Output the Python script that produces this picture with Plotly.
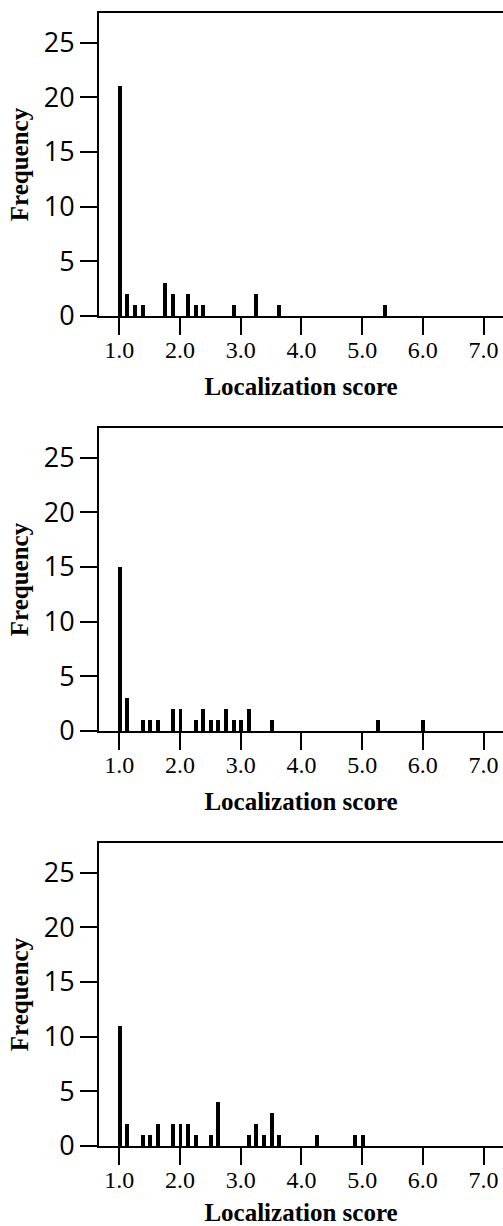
import plotly.graph_objects as go

# Panel data: localization score (bin position) and frequency
scores1 = [1.0, 1.125, 1.25, 1.375, 1.75, 1.875, 2.125, 2.25, 2.375, 2.875, 3.25, 3.625, 5.375]
freq1 = [21, 2, 1, 1, 3, 2, 2, 1, 1, 1, 2, 1, 1]

scores2 = [1.0, 1.125, 1.375, 1.5, 1.625, 1.875, 2.0, 2.25, 2.375, 2.5, 2.625, 2.75, 2.875,
           3.0, 3.125, 3.5, 5.25, 6.0]
freq2 = [15, 3, 1, 1, 1, 2, 2, 1, 2, 1, 1, 2, 1, 1, 2, 1, 1, 1]

scores3 = [1.0, 1.125, 1.375, 1.5, 1.625, 1.875, 2.0, 2.125, 2.25, 2.5, 2.625, 3.125, 3.25,
           3.375, 3.5, 3.625, 4.25, 4.875, 5.0]
freq3 = [11, 2, 1, 1, 2, 2, 2, 2, 1, 1, 4, 1, 2, 1, 3, 1, 1, 1, 1]

x_tickvals = [1, 2, 3, 4, 5, 6, 7]
x_ticktext = ["1.0", "2.0", "3.0", "4.0", "5.0", "6.0", "7.0"]
y_tickvals = [0, 5, 10, 15, 20, 25]

panels = [(scores1, freq1), (scores2, freq2), (scores3, freq3)]

W, H = 503, 1226
mt, mb = 13, 80
ph = H - mt - mb
panel_h = 303
pitch = 415

fig = go.Figure()
for i, (xs, ys) in enumerate(panels):
    n = i + 1
    suffix = "" if n == 1 else str(n)
    fig.add_trace(go.Bar(
        x=xs, y=ys, width=[0.065] * len(xs), offset=-0.025,
        marker=dict(color="black", line=dict(width=0)),
        xaxis="x" + suffix, yaxis="y" + suffix, showlegend=False,
    ))
    top = ph - i * pitch
    bottom = top - panel_h
    ydom = [bottom / ph, top / ph]
    xa = dict(
        domain=[0, 1], range=[0.665, 7.32], anchor="y" + suffix,
        tickvals=x_tickvals, ticktext=x_ticktext,
        ticks="outside", ticklen=17, tickwidth=1.5, tickcolor="black",
        ticklabelstandoff=-6,
        showline=True, linecolor="black", linewidth=2, mirror=True,
        showgrid=False, zeroline=False,
        tickfont=dict(family="Liberation Serif", size=24, color="black"),
        title=dict(text="<b>Localization score</b>", standoff=16,
                   font=dict(family="Liberation Serif", size=25, color="black")),
    )
    ya = dict(
        domain=ydom, range=[0, 27.7], anchor="x" + suffix,
        tickvals=y_tickvals,
        ticks="outside", ticklen=17, tickwidth=1.5, tickcolor="black",
        showline=True, linecolor="black", linewidth=2, mirror=False,
        showgrid=False, zeroline=False,
        tickfont=dict(family="Open Sans", size=27, color="black"),
        title=dict(text="<b>Frequency</b>", standoff=8,
                   font=dict(family="Liberation Serif", size=25, color="black")),
    )
    fig.layout["xaxis" + suffix] = xa
    fig.layout["yaxis" + suffix] = ya

fig.update_layout(
    width=W, height=H,
    margin=dict(l=99, r=0, t=mt, b=mb),
    paper_bgcolor="white", plot_bgcolor="white",
    bargap=0, barmode="overlay",
)

fig.write_html(
    "out.html",
    config={"displayModeBar": False},
    post_script="document.body.style.margin='0';document.body.style.overflow='hidden';",
)
